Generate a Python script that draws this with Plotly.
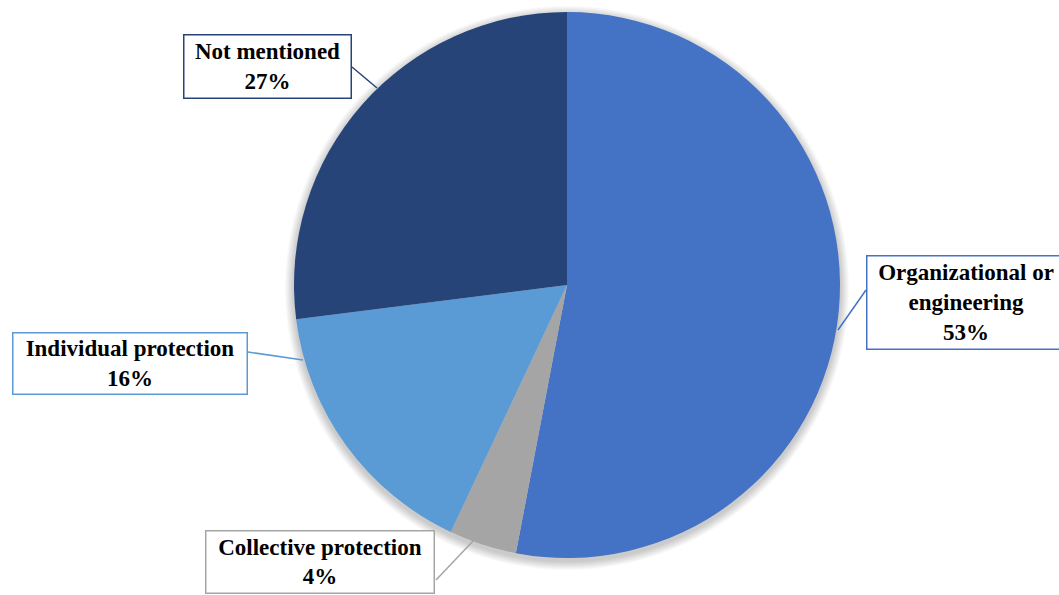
import plotly.graph_objects as go

# Share of measures by protection type
categories = ["Organizational or engineering", "Collective protection",
              "Individual protection", "Not mentioned"]
values = [53, 4, 16, 27]
label_lines = ["Organizational or<br>engineering", "Collective protection",
               "Individual protection", "Not mentioned"]
colors = ["#4472C4", "#A5A5A5", "#5B9BD5", "#264478"]

W, H = 1059, 595


def px(x):
    return x / W


def py(y):
    return 1 - y / H


# pie centred at (567, 285) with radius 273 px
cx, cy, r = 567, 285, 273

fig = go.Figure(go.Pie(
    labels=categories,
    values=values,
    sort=False,
    direction="clockwise",
    rotation=0,
    marker=dict(colors=colors, line=dict(width=0)),
    textinfo="none",
    hoverinfo="label+percent",
    showlegend=False,
    domain=dict(x=[px(cx - r), px(cx + r)], y=[py(cy + r), py(cy - r)]),
))

# soft drop shadow: stacked translucent discs under the pie, shifted slightly down
for k in range(1, 10):
    rr = r + k
    fig.add_shape(type="circle", xref="paper", yref="paper", layer="below",
                  x0=px(cx - rr), x1=px(cx + rr), y0=py(cy + 3 + rr), y1=py(cy + 3 - rr),
                  fillcolor="rgba(0,0,0,0.025)", line=dict(width=0))

# callout boxes: centre x, centre y, box width, box height, leader line (box end -> pie end)
callouts = [
    dict(cx=966, cy=302, w=200, h=95, line=((866, 290), (838, 330))),
    dict(cx=320, cy=562, w=230, h=64, line=((436, 580), (474, 540))),
    dict(cx=130, cy=363, w=236, h=63, line=((248, 352), (303, 360))),
    dict(cx=267, cy=66, w=169, h=65, line=((352, 67), (377, 88))),
]

font = dict(family="Liberation Serif, Times New Roman, serif", size=23, color="#000000")

for lab, val, col, c in zip(label_lines, values, colors, callouts):
    fig.add_annotation(
        x=px(c["cx"]), y=py(c["cy"]), xref="paper", yref="paper",
        xanchor="center", yanchor="middle",
        text=f"<b>{lab}<br>{val}%</b>",
        showarrow=False, align="center",
        font=font,
        bgcolor="#FFFFFF", bordercolor=col, borderwidth=1.5, borderpad=0,
        width=c["w"] - 3, height=c["h"] - 3,
    )
    (x0, y0), (x1, y1) = c["line"]
    fig.add_shape(type="line", xref="paper", yref="paper",
                  x0=px(x0), y0=py(y0), x1=px(x1), y1=py(y1),
                  line=dict(color=col, width=1.5))

fig.update_layout(
    width=W, height=H,
    margin=dict(l=0, r=0, t=0, b=0),
    paper_bgcolor="#FFFFFF",
    plot_bgcolor="#FFFFFF",
)

fig.write_html("out.html")
